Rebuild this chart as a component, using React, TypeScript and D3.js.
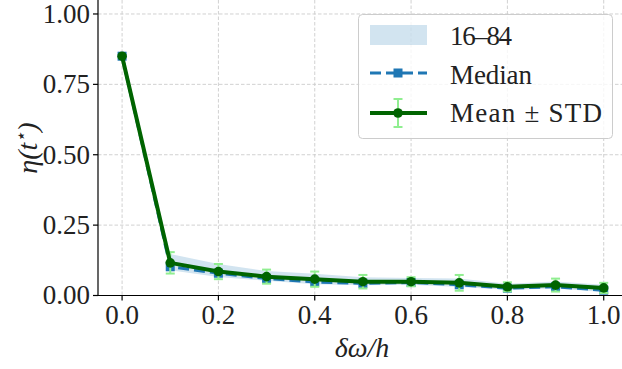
import React from "react";
import * as d3 from "d3";

const xs = [0, 0.1, 0.2, 0.3, 0.4, 0.5, 0.6, 0.7, 0.8, 0.9, 1.0];
const meanVals = [0.85, 0.116, 0.085, 0.067, 0.058, 0.049, 0.049, 0.045, 0.031, 0.037, 0.027];
const stdVals = [0, 0.038, 0.027, 0.025, 0.027, 0.024, 0.016, 0.028, 0.016, 0.023, 0.018];
const medianVals = [0.85, 0.102, 0.079, 0.06, 0.048, 0.043, 0.046, 0.038, 0.026, 0.031, 0.019];
const p16Vals = [0.85, 0.09, 0.066, 0.052, 0.04, 0.036, 0.038, 0.03, 0.02, 0.025, 0.012];
const p84Vals = [0.85, 0.147, 0.112, 0.087, 0.077, 0.065, 0.062, 0.06, 0.042, 0.05, 0.038];
const xTicks = [0, 0.2, 0.4, 0.6, 0.8, 1.0];
const yTicks = [0, 0.25, 0.5, 0.75, 1.0];
const legendLabels = ["16–84", "Median", "Mean ± STD"];
const legendWidths = [62, 82, 152];

const W = 622;
const H = 369;
const FONT = "Liberation Serif";
const BLUE = "#1f77b4";
const GREEN = "#006400";
const LGREEN = "#90ee90";

export default function App() {
  const x = d3.scaleLinear().domain([-0.05, 1.05]).range([98, 627.8]);
  const y = d3.scaleLinear().domain([0, 1.05]).range([295.5, -0.1]);
  const idx = xs.map((_, i) => i);

  const area = d3
    .area<number>()
    .x((i) => x(xs[i]))
    .y0((i) => y(p16Vals[i]))
    .y1((i) => y(p84Vals[i]));
  const medLine = d3
    .line<number>()
    .x((i) => x(xs[i]))
    .y((i) => y(medianVals[i]));
  const meanLine = d3
    .line<number>()
    .x((i) => x(xs[i]))
    .y((i) => y(meanVals[i]));

  const x0 = 98;
  const x1 = 628;
  const yb = 295.5;

  return (
    <svg
      width={W}
      height={H}
      style={{ position: "absolute", left: 0, top: 0, background: "#fff" }}
    >
      {/* grid */}
      {xTicks.map((t) => (
        <line
          key={"gx" + t}
          x1={x(t)}
          x2={x(t)}
          y1={0}
          y2={yb}
          stroke="#cccccc"
          strokeWidth={0.9}
          strokeDasharray="3.5,2"
        />
      ))}
      {yTicks.map((t) => (
        <line
          key={"gy" + t}
          x1={x0}
          x2={x1}
          y1={y(t)}
          y2={y(t)}
          stroke="#cccccc"
          strokeWidth={0.9}
          strokeDasharray="3.5,2"
        />
      ))}

      {/* band */}
      <path d={area(idx) || ""} fill={BLUE} fillOpacity={0.2} stroke="none" />

      {/* median */}
      <path
        d={medLine(idx) || ""}
        fill="none"
        stroke={BLUE}
        strokeWidth={3}
        strokeDasharray="11,5"
      />
      {idx.map((i) => (
        <rect
          key={"m" + i}
          x={x(xs[i]) - 4.5}
          y={y(medianVals[i]) - 4.5}
          width={9}
          height={9}
          fill={BLUE}
        />
      ))}

      {/* error bars */}
      {idx.map((i) =>
        stdVals[i] > 0 ? (
          <g key={"e" + i} stroke={LGREEN} strokeWidth={2}>
            <line
              x1={x(xs[i])}
              x2={x(xs[i])}
              y1={y(meanVals[i] - stdVals[i])}
              y2={y(meanVals[i] + stdVals[i])}
            />
            <line
              x1={x(xs[i]) - 4.5}
              x2={x(xs[i]) + 4.5}
              y1={y(meanVals[i] - stdVals[i])}
              y2={y(meanVals[i] - stdVals[i])}
            />
            <line
              x1={x(xs[i]) - 4.5}
              x2={x(xs[i]) + 4.5}
              y1={y(meanVals[i] + stdVals[i])}
              y2={y(meanVals[i] + stdVals[i])}
            />
          </g>
        ) : null
      )}

      {/* mean */}
      <path
        d={meanLine(idx) || ""}
        fill="none"
        stroke={GREEN}
        strokeWidth={4}
        strokeLinejoin="round"
      />
      {idx.map((i) => (
        <circle key={"c" + i} cx={x(xs[i])} cy={y(meanVals[i])} r={4.8} fill={GREEN} />
      ))}

      {/* axes */}
      <line x1={x0} x2={x0} y1={0} y2={yb} stroke="#000" strokeWidth={1.2} />
      <line x1={x0} x2={x1} y1={yb} y2={yb} stroke="#000" strokeWidth={1.2} />
      {yTicks.map((t) => (
        <g key={"yt" + t}>
          <line x1={x0 - 5} x2={x0} y1={y(t)} y2={y(t)} stroke="#000" strokeWidth={1.2} />
          <text
            x={x0 - 8}
            y={y(t)}
            dy="0.33em"
            textAnchor="end"
            fontSize={27}
            fill="#222"
            fontFamily={FONT}
          >
            {t.toFixed(2)}
          </text>
        </g>
      ))}
      {xTicks.map((t) => (
        <g key={"xt" + t}>
          <line x1={x(t)} x2={x(t)} y1={yb} y2={yb + 5} stroke="#000" strokeWidth={1.2} />
          <text x={x(t)} y={yb + 28} textAnchor="middle" fontSize={27} fill="#222" fontFamily={FONT}>
            {t.toFixed(1)}
          </text>
        </g>
      ))}

      {/* axis labels */}
      <text x={362} y={357} textAnchor="middle" fontSize={28} fill="#222" fontStyle="italic" fontFamily={FONT}>
        δω/h
      </text>
      <text
        transform={`translate(37,148) rotate(-90)`}
        textAnchor="middle"
        fontSize={28}
        fill="#222"
        fontStyle="italic"
        fontFamily={FONT}
      >
        η(t<tspan fontSize={18} dy={-10}>⋆</tspan><tspan dy={10}>)</tspan>
      </text>

      {/* legend */}
      <rect
        x={358.5}
        y={14.5}
        width={254}
        height={124}
        rx={4}
        fill="#fff"
        fillOpacity={0.8}
        stroke="#cccccc"
        strokeWidth={1}
      />
      <rect x={370} y={25} width={57} height={20} fill={BLUE} fillOpacity={0.2} />
      <line x1={370} x2={427} y1={73} y2={73} stroke={BLUE} strokeWidth={3} strokeDasharray="11,5" />
      <rect x={393.5} y={68.5} width={9} height={9} fill={BLUE} />
      <line x1={398} x2={398} y1={99} y2={127} stroke={LGREEN} strokeWidth={2} />
      <line x1={393.5} x2={402.5} y1={99} y2={99} stroke={LGREEN} strokeWidth={2} />
      <line x1={393.5} x2={402.5} y1={127} y2={127} stroke={LGREEN} strokeWidth={2} />
      <line x1={370} x2={427} y1={113} y2={113} stroke={GREEN} strokeWidth={4} />
      <circle cx={398} cy={113} r={4.8} fill={GREEN} />
      {legendLabels.map((l, i) => (
        <text
          key={l}
          x={450}
          y={45 + i * 38.5}
          fontSize={27}
          fill="#222"
          fontFamily={FONT}
          textLength={legendWidths[i]}
          lengthAdjust="spacing"
        >
          {l}
        </text>
      ))}
    </svg>
  );
}
